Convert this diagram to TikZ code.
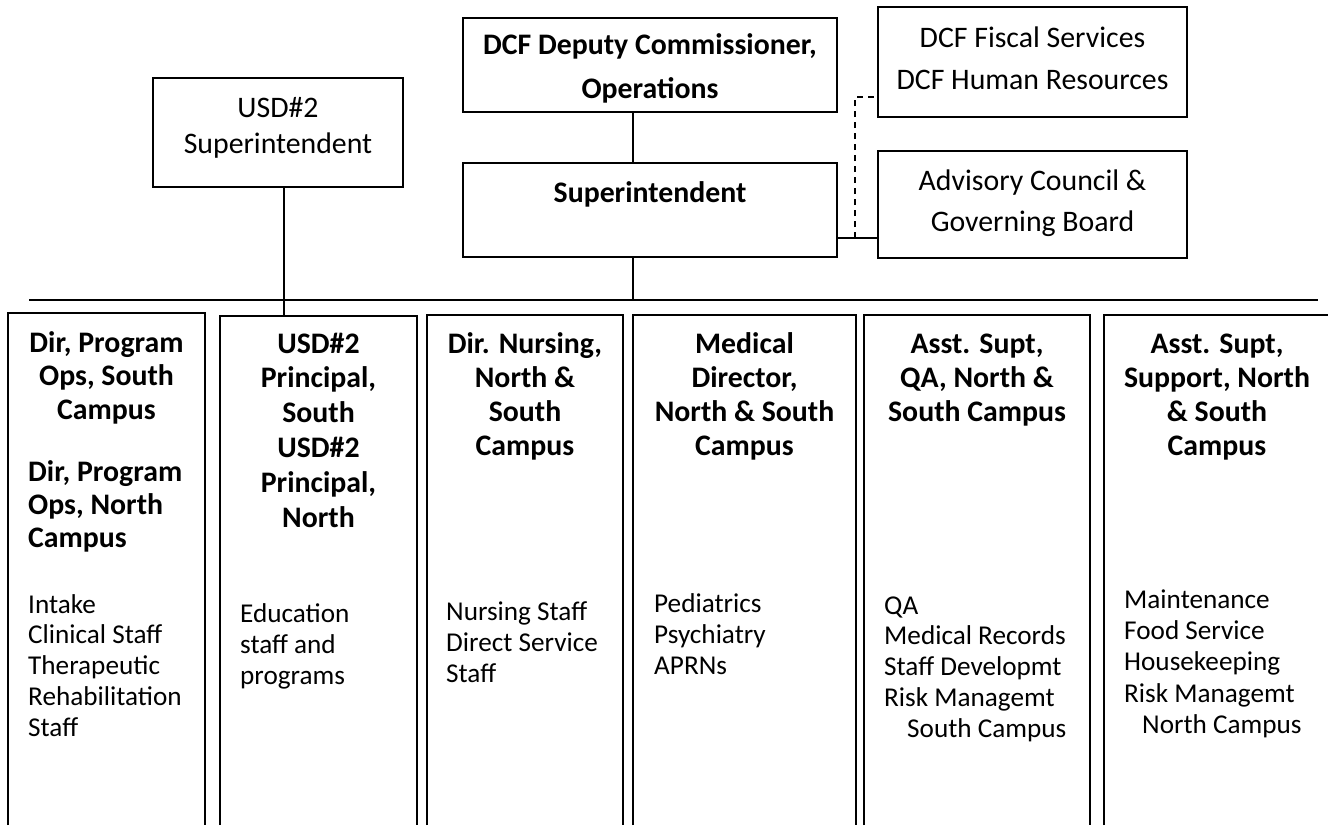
\documentclass[tikz,border=0pt]{standalone}
\usepackage{fontspec}
\setmainfont{Carlito}
\begin{document}
\begin{tikzpicture}[x=1pt,y=-1pt,
  box/.style={draw,line width=1.5pt,rectangle,inner sep=0pt},
  colline/.style={line width=1.5pt},
  link/.style={line width=1.5pt},
  dashlink/.style={line width=1.2pt,dash pattern=on 6pt off 5pt},
  bigtxt/.style={inner sep=0pt,anchor=north,align=center,font=\fontsize{29.8}{34}\selectfont},
  head/.style={inner sep=0pt,anchor=north,align=center,font=\fontsize{29.8}{34}\selectfont\bfseries},
  body/.style={inner sep=0pt,anchor=north west,align=left,font=\fontsize{27.2}{31}\selectfont}]
\useasboundingbox (0,0) rectangle (1328,825);

% top boxes
\node[box,minimum width=250pt,minimum height=109pt] (usd) at (278,132.5) {};
\node[box,minimum width=374pt,minimum height=94pt] (dep) at (650,65) {};
\node[box,minimum width=374pt,minimum height=94pt] (sup) at (650,210) {};
\node[box,minimum width=309pt,minimum height=110pt] (fis) at (1032.5,62) {};
\node[box,minimum width=309pt,minimum height=107pt] (adv) at (1032.5,204.5) {};

\node[bigtxt,font=\fontsize{29.8}{36}\selectfont] (usdt) at (278,91.8) {\strut USD\#2\\Superintendent};
\node[head,font=\fontsize{29.8}{44}\selectfont\bfseries] (dept) at (650,23.2) {\strut DCF Deputy Commissioner,\\Operations};
\node[head] (supt) at (650,178.2) {\strut Superintendent};
\node[bigtxt,font=\fontsize{29.8}{42}\selectfont] (fist) at (1032.5,17.6) {\strut DCF Fiscal Services\\DCF Human Resources};
\node[bigtxt,font=\fontsize{29.8}{41}\selectfont] (advt) at (1032.5,161.3) {\strut Advisory Council \&\\Governing Board};

% bus
\coordinate (busL) at (29,300);
\coordinate (busR) at (1318,300);
\draw[link] (busL) -- (busR);

% columns
\draw[colline] (8,825) |- (205,313) -- (205,825);
\draw[colline] (220,825) |- (417,316) -- (417,825);
\draw[colline] (427,825) |- (623,315) -- (623,825);
\draw[colline] (633,825) |- (856,315) -- (856,825);
\draw[colline] (864,825) |- (1090,315) -- (1090,825);
\draw[colline] (1104,825) |- (1328,315);
\coordinate (col2top) at (318,316);

% connectors
\draw[link] ([xshift=-17pt]dep.south) -- ([xshift=-17pt]sup.north);
\draw[link] ([xshift=-17pt]sup.south) -- ([xshift=-17pt]sup.south |- busL);
\draw[link] ([xshift=6pt]usd.south) -- ([xshift=6pt]usd.south |- col2top);
\draw[link] ([yshift=-28pt]sup.east) -- ([yshift=-28pt]sup.east -| adv.west);
\coordinate (dj) at (855,238);
\draw[dashlink] (dj) |- ([yshift=-35pt]fis.west);

% column headings
\node[head,font=\fontsize{29.8}{33.5}\selectfont\bfseries] (h1a) at (106.5,328.5) {\strut Dir, Program\\Ops, South\\Campus};
\node[head,anchor=north west,align=left,font=\fontsize{29.8}{33}\selectfont\bfseries] (h1b) at (28,457.9) {\strut Dir, Program\\Ops, North\\Campus};
\node[head,font=\fontsize{29.8}{34.8}\selectfont\bfseries] (h2) at (318.5,328.6) {\strut USD\#2\\Principal,\\South\\USD\#2\\Principal,\\North};
\node[head] (h3) at (525,329.7) {\strut Dir. Nursing,\\North \&\\South\\Campus};
\node[head] (h4) at (744.5,329.7) {\strut Medical\\Director,\\North \& South\\Campus};
\node[head] (h5) at (977,329.7) {\strut Asst. Supt,\\QA, North \&\\South Campus};
\node[head] (h6) at (1217,329.7) {\strut Asst. Supt,\\Support, North\\\& South\\Campus};

% column bodies
\node[body,font=\fontsize{27.2}{30.75}\selectfont] (b1) at (28,591.5) {\strut Intake\\Clinical Staff\\Therapeutic\\Rehabilitation\\Staff};
\node[body] (b2) at (240,600.3) {\strut Education\\staff and\\programs};
\node[body] (b3) at (446,598.3) {\strut Nursing Staff\\Direct Service\\Staff};
\node[body] (b4) at (654,590.3) {\strut Pediatrics\\Psychiatry\\APRNs};
\node[body,font=\fontsize{27.2}{30.75}\selectfont] (b5) at (884,592.5) {\strut QA\\Medical Records\\Staff Developmt\\Risk Managemt\\\hspace*{23pt}South Campus};
\node[body,font=\fontsize{27.2}{31.25}\selectfont] (b6) at (1124,586.3) {\strut Maintenance\\Food Service\\Housekeeping\\Risk Managemt\\\hspace*{18pt}North Campus};
\end{tikzpicture}
\end{document}
